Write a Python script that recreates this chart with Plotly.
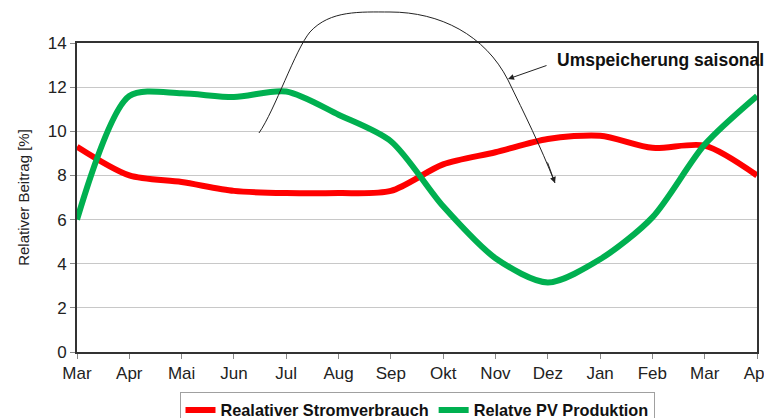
import plotly.graph_objects as go

months = ["Mar", "Apr", "Mai", "Jun", "Jul", "Aug", "Sep", "Okt", "Nov", "Dez", "Jan", "Feb", "Mar", "Apr"]
strom = [9.3, 8.0, 7.7, 7.3, 7.2, 7.2, 7.3, 8.5, 9.05, 9.65, 9.8, 9.25, 9.35, 8.0]
pv = [6.0, 11.6, 11.72, 11.55, 11.8, 10.75, 9.55, 6.6, 4.25, 3.15, 4.2, 6.1, 9.4, 11.6]
xpos = list(range(len(months)))

OFF = 8  # page body margin
W, H = 772 - OFF, 418 - OFF
L, R, T, B = 77 - OFF, 15, 43 - OFF, 66
pw, ph = W - L - R, H - T - B

def px(x, y):
    x -= OFF
    y -= OFF
    return (x - L) / pw, (H - B - y) / ph

fig = go.Figure()
fig.add_trace(go.Scatter(x=xpos, y=strom, mode="lines", name="<b>Realativer Stromverbrauch</b>",
                         line=dict(color="#ff0000", width=6, shape="spline", smoothing=0.8)))
fig.add_trace(go.Scatter(x=xpos, y=pv, mode="lines", name="<b>Relatve PV Produktion</b>",
                         line=dict(color="#00b050", width=6, shape="spline", smoothing=0.8)))

# curved annotation arrow path (paper coords)
pts = [("M", [(259, 133)]),
       ("C", [(275, 110), (295, 50), (310, 32)]),
       ("C", [(330, 10), (360, 12), (390, 12)]),
       ("C", [(440, 12), (485, 35), (508, 80)]),
       ("C", [(525, 115), (540, 145), (555, 183)])]
path = ""
for cmd, ps in pts:
    path += cmd + " " + " ".join("%.4f,%.4f" % px(*p) for p in ps) + " "
fig.add_shape(type="path", path=path.strip(), xref="paper", yref="paper",
              line=dict(color="#222222", width=1))

hx, hy = px(555, 183)
fig.add_annotation(x=hx, y=hy, xref="paper", yref="paper", text="", showarrow=True,
                   arrowhead=2, arrowsize=1.2, arrowwidth=1, arrowcolor="#222222", ax=-8, ay=-22)
ax_, ay_ = px(508, 79)
fig.add_annotation(x=ax_, y=ay_, xref="paper", yref="paper", text="", showarrow=True,
                   arrowhead=2, arrowsize=1.2, arrowwidth=1, arrowcolor="#222222", ax=40, ay=-14)
tx, ty = px(555, 60)
fig.add_annotation(x=tx, y=ty, xref="paper", yref="paper", text="<b>Umspeicherung saisonal</b>",
                   showarrow=False, xanchor="left", yanchor="middle",
                   font=dict(family="Arial, Liberation Sans", size=17.5, color="#111111"))

fig.update_layout(
    width=W, height=H, margin=dict(l=L, r=R, t=T, b=B, autoexpand=False),
    paper_bgcolor="white", plot_bgcolor="white",
    font=dict(family="Arial, Liberation Sans", color="#222222"),
    showlegend=True,
    legend=dict(orientation="h", x=px(417, 0)[0], xanchor="center", y=px(0, 392)[1], yanchor="top",
                bordercolor="#a0a0a0", borderwidth=1, font=dict(size=16.3, color="#111111"),
                tracegroupgap=0),
)

fig.update_xaxes(range=[0, 13], tickvals=xpos, ticktext=months, showgrid=False, automargin=False,
                 showline=True, linecolor="#333333", linewidth=2, mirror=True,
                 ticks="outside", ticklen=5, tickcolor="#888888", tickfont=dict(size=17), zeroline=False)
fig.update_yaxes(range=[0, 14], dtick=2, showgrid=True, gridcolor="#c8c8c8", gridwidth=1, automargin=False,
                 showline=True, linecolor="#333333", linewidth=2, mirror=True,
                 ticks="outside", ticklen=5, tickcolor="#888888", tickfont=dict(size=17), zeroline=False,
                 title=dict(text="Relativer Beitrag [%]", font=dict(size=15), standoff=14))

fig.write_html("out.html")
